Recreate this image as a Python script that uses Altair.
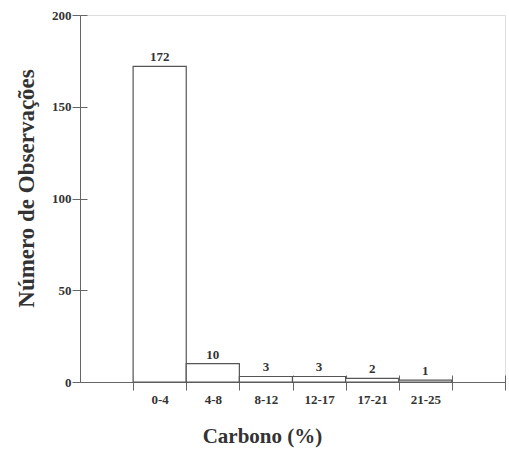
import altair as alt
import pandas as pd

categories = ["0-4", "4-8", "8-12", "12-17", "17-21", "21-25"]
counts = [172, 10, 3, 3, 2, 1]
slot_start = [1, 2, 3, 4, 5, 6]
y_ticks = [0, 50, 100, 150, 200]
x_bounds = [1, 2, 3, 4, 5, 6, 7, 8]

df = pd.DataFrame({
    "cat": categories,
    "n": counts,
    "base": [0] * len(counts),
    "x0": slot_start,
    "x1": [s + 1 for s in slot_start],
    "xc": [s + 0.5 for s in slot_start],
})

FONT = "Liberation Serif"
TXT = "#333333"
AX = "#666666"

label_arr = "[" + ",".join("'" + c + "'" for c in categories) + "]"

xscale = alt.Scale(domain=[0, 8], nice=False, zero=False)
yscale = alt.Scale(domain=[0, 200], nice=False)

bars = alt.Chart(df).mark_rect(fill="white", stroke="#555555", strokeWidth=1.2).encode(
    x=alt.X("x0:Q", scale=xscale,
            axis=alt.Axis(orient="bottom", values=[s + 0.5 for s in slot_start],
                          labelExpr=label_arr + "[floor(datum.value)-1]",
                          ticks=False, grid=False, domain=True, domainColor=AX,
                          labelFont=FONT, labelFontSize=13, labelFontWeight="bold",
                          labelColor=TXT, labelPadding=11,
                          title="Carbono (%)", titleFont=FONT, titleFontSize=21,
                          titleFontWeight="bold", titleColor=TXT,
                          titleX=182, titleY=43, titleAnchor="middle")),
    x2="x1:Q",
    y=alt.Y("n:Q", scale=yscale,
            axis=alt.Axis(orient="left", values=y_ticks, tickSize=8, tickColor=AX,
                          grid=False, domain=True, domainColor=AX,
                          labelFont=FONT, labelFontSize=13, labelFontWeight="bold",
                          labelColor=TXT, labelPadding=1,
                          title="Número de Observações", titleFont=FONT, titleFontSize=23,
                          titleFontWeight="bold", titleColor=TXT,
                          titleX=-54, titleY=173, titleAngle=-90,
                          titleBaseline="middle")),
    y2="base:Q",
)

text = alt.Chart(df).mark_text(font=FONT, fontSize=13, fontWeight="bold", color=TXT,
                               baseline="bottom", dy=-2).encode(
    x=alt.X("xc:Q", scale=xscale,
            axis=alt.Axis(orient="bottom", values=x_bounds, tickSize=15, tickColor=AX,
                          offset=-7, labels=False, domain=False, grid=False, title=None)),
    y=alt.Y("n:Q", scale=yscale,
            axis=alt.Axis(orient="left", values=y_ticks, tickSize=7, tickColor=AX,
                          offset=-7, labels=False, domain=False, grid=False, title=None)),
    text="n:Q",
)

chart = alt.layer(bars, text).resolve_axis(x="independent", y="independent").properties(
    width=425, height=367,
    autosize=alt.AutoSizeParams(type="none"),
    padding={"left": 80, "top": 15, "right": 4, "bottom": 68},
).configure_view(stroke=None).configure(background="white")

chart.save("out.html", embed_options={"renderer": "svg", "actions": False})
